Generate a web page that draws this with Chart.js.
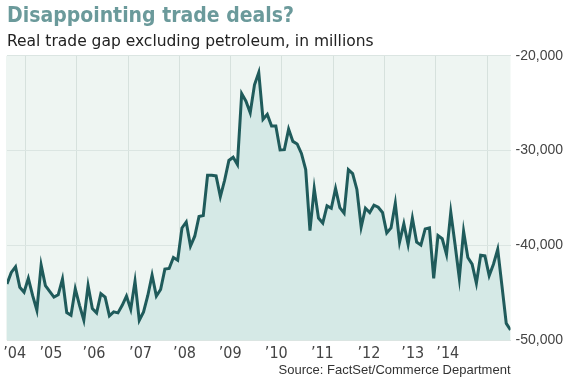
<!DOCTYPE html>
<html>
<head>
<meta charset="utf-8">
<script src="https://cdn.jsdelivr.net/npm/chart.js@4/dist/chart.umd.min.js"></script>
<style>
  html, body { margin: 0; padding: 0; background: #fff; }
  #wrap { width: 580px; height: 386px; }
</style>
</head>
<body>
<div id="wrap"><canvas id="gapChart" width="580" height="386"></canvas></div>
<script>
// real trade gap excl. petroleum, monthly, in millions
const tradeGap = [
  -44060, -42850, -42260, -44410, -44930, -43470, -45280, -46840, -42080, -44240,
  -44860, -45450, -45210, -43540, -47080, -47360, -44580, -46320, -47880, -44240,
  -46670, -47120, -45100, -45450, -47430, -47010, -47120, -46320, -45350, -46740,
  -43780, -47900, -47010, -45280, -43130, -45350, -44650, -42500, -42430, -41280,
  -41560, -38160, -37530, -40070, -39030, -36950, -36840, -32600, -32600, -32670,
  -34860, -33130, -31040, -30700, -31460, -23990, -24790, -26010, -23060, -21770,
  -26700, -26180, -27400, -27400, -29930, -29900, -27740, -29030, -29300, -30300,
  -32000, -38440, -34000, -37120, -37640, -35830, -36080, -34000, -36010, -36600,
  -32010, -32430, -34100, -38060, -36080, -36530, -35760, -35970, -36530, -38680,
  -38160, -35550, -39650, -37710, -39900, -37120, -39650, -39970, -38260, -38160,
  -43470, -38960, -39300, -40940, -36490, -39900, -43470, -38510, -41280, -41980,
  -43990, -41040, -41110, -43190, -41980, -40420, -44300, -48230, -48930
];
const yearLabels = ["\u201904", "\u201905", "\u201906", "\u201907", "\u201908", "\u201909",
  "\u201910", "\u201911", "\u201912", "\u201913", "\u201914"];
const yTicks = [-50000, -40000, -30000, -20000];

// where the year labels and year grid lines sit, in month steps
const labelAt = [1.8, 10.3, 20.4, 31.3, 41.6, 52.3, 63.1, 73.9, 84.8, 95.1, 103.3];
const gridAt = [4.4, 16.4, 28.4, 40.4, 52.4, 64.4, 76.4, 88.4, 100.4, 112.5];

const narrow = "'Liberation Sans Narrow', 'DejaVu Sans Condensed', sans-serif";

const plotBg = {
  id: "plotBg",
  beforeDraw(chart) {
    const { ctx, chartArea: a } = chart;
    ctx.save();
    ctx.fillStyle = "#eef5f2";
    ctx.fillRect(a.left - 1, a.top, a.right - a.left + 1, a.bottom - a.top);
    ctx.restore();
  }
};

new Chart(document.getElementById("gapChart"), {
  type: "line",
  data: {
    datasets: [{
      data: tradeGap.map((v, i) => ({ x: i, y: v })),
      borderColor: "#1f5b5b",
      borderWidth: 3,
      backgroundColor: "#d5e9e6",
      fill: "start",
      pointRadius: 0,
      tension: 0,
    }],
  },
  options: {
    responsive: false,
    animation: false,
    layout: { padding: { left: 7, right: 12, top: 0, bottom: 8 } },
    plugins: {
      legend: { display: false },
      tooltip: { enabled: false },
      title: {
        display: true,
        text: "Disappointing trade deals?",
        align: "start",
        color: "#6b9a9b",
        font: { family: narrow, size: 21, weight: "bold" },
        padding: { top: 4, bottom: 3 },
      },
      subtitle: {
        display: true,
        text: "Real trade gap excluding petroleum, in millions",
        align: "start",
        color: "#222",
        font: { family: "'DejaVu Sans', sans-serif", size: 15.5 },
        padding: { top: 0, bottom: 5 },
      },
    },
    scales: {
      x: {
        type: "linear",
        min: 0,
        max: tradeGap.length - 1,
        afterBuildTicks(axis) {
          axis.ticks = gridAt.map(v => ({ value: v }))
            .concat(labelAt.map(v => ({ value: v })));
        },
        grid: {
          drawTicks: false,
          color: ctx => (ctx.index < gridAt.length ? "#d6e1dd" : "rgba(0,0,0,0)"),
        },
        border: { display: false },
        ticks: {
          autoSkip: false,
          maxRotation: 0,
          padding: 4,
          color: "#444",
          font: { family: narrow, size: 16 },
          callback: (v, i) => (i >= gridAt.length ? yearLabels[i - gridAt.length] : ""),
        },
        title: {
          display: true,
          text: "Source: FactSet/Commerce Department",
          align: "end",
          color: "#333",
          font: { family: "'Liberation Sans', sans-serif", size: 13 },
          padding: { top: -5, bottom: 0 },
        },
      },
      y: {
        position: "right",
        min: -50000,
        max: -20000,
        afterBuildTicks(axis) {
          axis.ticks = yTicks.map(v => ({ value: v }));
        },
        grid: { drawTicks: false, color: "#dbe5e2" },
        border: { display: false },
        ticks: {
          padding: 5,
          color: "#444",
          font: { family: "'Liberation Sans', sans-serif", size: 14 },
          callback: v => v.toLocaleString("en-US"),
        },
      },
    },
  },
  plugins: [plotBg],
});
</script>
</body>
</html>
